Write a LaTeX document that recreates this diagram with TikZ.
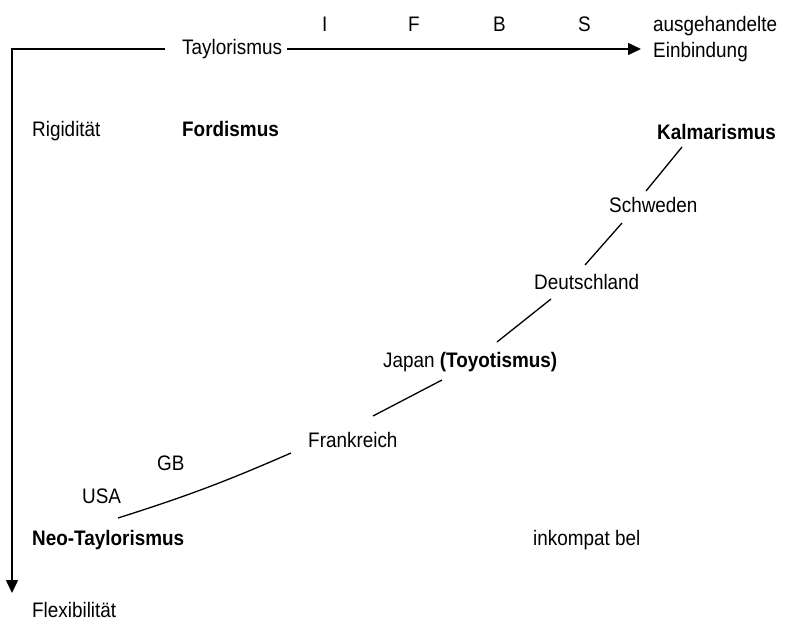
\documentclass[tikz,border=0pt]{standalone}
\usepackage{fontspec}
\setmainfont{Liberation Sans}[FakeStretch=0.9]
\usetikzlibrary{arrows.meta}
\begin{document}
\begin{tikzpicture}[x=1pt,y=-1pt,
  lbl/.style={anchor=base west,inner sep=0pt,font=\fontsize{21}{24}\selectfont},
  blbl/.style={lbl,font=\fontsize{21}{24}\selectfont\bfseries},
  axis/.style={line width=1.5pt,-{Triangle[length=13pt,width=12pt]}},
  link/.style={line width=1.3pt}]
\useasboundingbox (0,0) rectangle (788,631);
% axis labels
\node[lbl] (tay) at (182,55) {Taylorismus};
\node[lbl] (li) at (322,32) {I};
\node[lbl] (lf) at (408,32) {F};
\node[lbl] (lb) at (493,32) {B};
\node[lbl] (ls) at (578,32) {S};
\node[lbl] (aus) at (653,32) {ausgehandelte};
\node[lbl] (ein) at (653,58) {Einbindung};
\node[lbl] (rig) at (32,137) {Rigidität};
\node[blbl] (ford) at (182,137) {Fordismus};
\node[blbl] (kal) at (657,140) {Kalmarismus};
\node[lbl] (sch) at (609,213) {Schweden};
\node[lbl] (deu) at (534,290) {Deutschland};
\node[lbl] (jap) at (383,367) {Japan \textbf{(Toyotismus)}};
\node[lbl] (fra) at (308,447) {Frankreich};
\node[lbl] (gb) at (157,470) {GB};
\node[lbl] (usa) at (82,503) {USA};
\node[blbl] (neo) at (32,545) {Neo-Taylorismus};
\node[lbl] (ink) at (533,545) {inkompat bel};
\node[lbl] (flex) at (32,617) {Flexibilität};
% axes
\coordinate (corner) at (12,49);
\coordinate (hstart) at (165,49);
\coordinate (hcont) at (287,49);
\coordinate (htip) at (641,49);
\coordinate (vtip) at (12,593);
\draw[axis] (hstart) -- (corner) -- (vtip);
\draw[axis] (hcont) -- (htip);
% path segments
\coordinate (k1) at (682,147); \coordinate (s1) at (646,191);
\coordinate (s2) at (622,223); \coordinate (d1) at (585,265);
\coordinate (d2) at (551,299); \coordinate (j1) at (497,342);
\coordinate (j2) at (442,380); \coordinate (f1) at (373,416);
\coordinate (f2) at (291,453); \coordinate (u1) at (118,518);
\draw[link] (k1) -- (s1);
\draw[link] (s2) -- (d1);
\draw[link] (d2) -- (j1);
\draw[link] (j2) -- (f1);
\draw[link] (f2) to[bend left=3] (u1);
\end{tikzpicture}
\end{document}
